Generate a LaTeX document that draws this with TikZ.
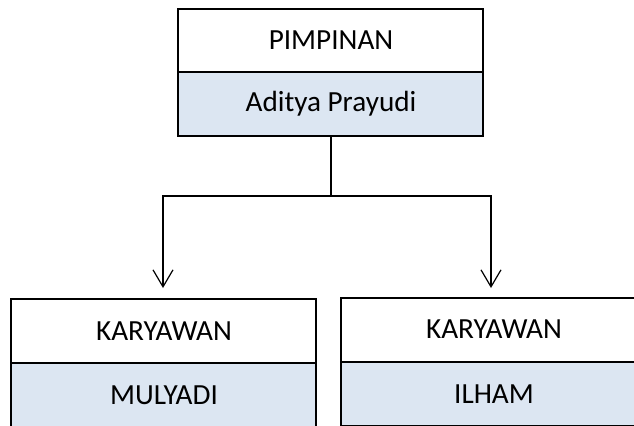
\documentclass[tikz,border=0pt]{standalone}
\usepackage{fontspec}
\setmainfont{Carlito}
\usetikzlibrary{arrows.meta}
\definecolor{namefill}{HTML}{DCE6F2}
\begin{document}
\begin{tikzpicture}[x=0.5pt,y=-0.5pt,
	jabatan/.style={draw,line width=1pt,minimum width=152.5pt,minimum height=32pt,inner sep=0pt,font=\fontsize{14.6}{17}\selectfont},
	nama/.style={jabatan,fill=namefill},
	garis/.style={line width=1pt},
	panah/.style={garis,-{Straight Barb[length=8.5pt,width=10pt,line width=0.6pt]}}]
	\useasboundingbox (0,0) rectangle (634,425);

	% Pimpinan
	\node[jabatan] (pimpinan) at (331,40.5) {PIMPINAN};
	\node[nama] (aditya) at (331,103.5) {Aditya Prayudi};

	% Karyawan
	\node[jabatan] (karyawan1) at (164,331) {KARYAWAN};
	\node[nama] (mulyadi) at (164,395) {MULYADI};
	\node[jabatan] (karyawan2) at (494,329.5) {KARYAWAN};
	\node[nama] (ilham) at (494,394) {ILHAM};

	% Connectors
	\coordinate (cabang) at (331,196);
	\coordinate (ujungkiri) at (163,288);
	\coordinate (ujungkanan) at (491,288);
	\draw[garis] (aditya.south) -- (cabang);
	\draw[panah] (cabang) -| (ujungkiri);
	\draw[panah] (cabang) -| (ujungkanan);

\end{tikzpicture}
\end{document}
